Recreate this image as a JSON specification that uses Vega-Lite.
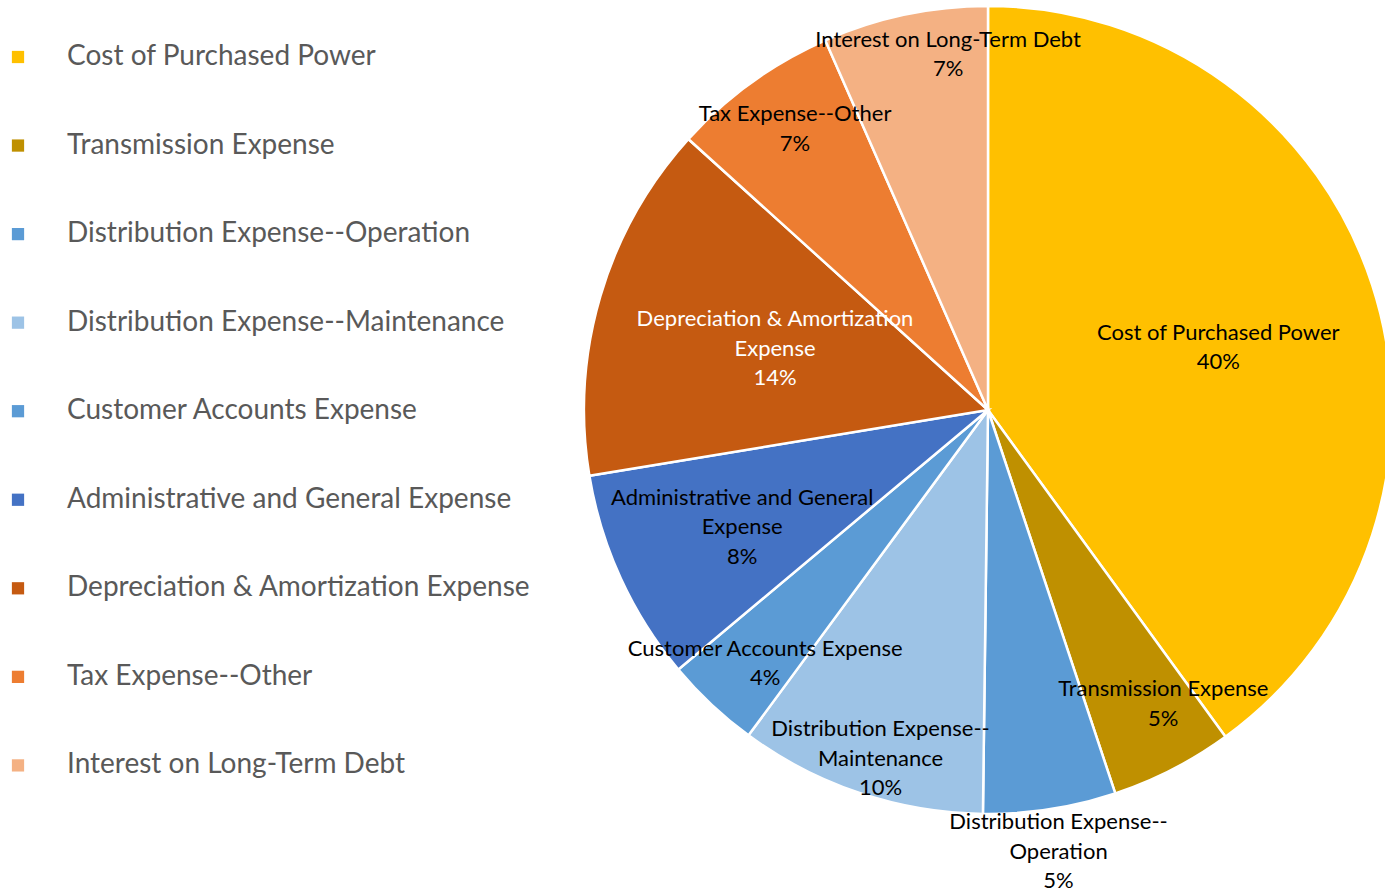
{
  "$schema": "https://vega.github.io/schema/vega-lite/v6.json",
  "width": 806,
  "height": 812,
  "autosize": {"type": "none"},
  "padding": {"left": 585, "top": 4, "right": 0, "bottom": 78},
  "background": "white",
  "config": {"view": {"stroke": null}, "font": "Lato"},
  "data": {
    "values": [
      {"order": 1, "category": "Cost of Purchased Power", "value": 40.0, "label": "Cost of Purchased Power\n40%"},
      {"order": 2, "category": "Transmission Expense", "value": 4.9, "label": "Transmission Expense\n5%"},
      {"order": 3, "category": "Distribution Expense--Operation", "value": 5.3, "label": "Distribution Expense--\nOperation\n5%"},
      {"order": 4, "category": "Distribution Expense--Maintenance", "value": 9.9, "label": "Distribution Expense--\nMaintenance\n10%"},
      {"order": 5, "category": "Customer Accounts Expense", "value": 3.8, "label": "Customer Accounts Expense\n4%"},
      {"order": 6, "category": "Administrative and General Expense", "value": 8.5, "label": "Administrative and General\nExpense\n8%"},
      {"order": 7, "category": "Depreciation & Amortization Expense", "value": 14.3, "label": "Depreciation & Amortization\nExpense\n14%"},
      {"order": 8, "category": "Tax Expense--Other", "value": 6.7, "label": "Tax Expense--Other\n7%"},
      {"order": 9, "category": "Interest on Long-Term Debt", "value": 6.6, "label": "Interest on Long-Term Debt\n7%"}
    ]
  },
  "transform": [
    {"stack": "value", "groupby": [], "sort": [{"field": "order", "order": "ascending"}], "as": ["v0", "v1"]},
    {"calculate": "(datum.v0 + datum.v1) / 2", "as": "mid"}
  ],
  "layer": [
    {
      "mark": {"type": "arc", "outerRadius": 404, "stroke": "white", "strokeWidth": 2.5},
      "encoding": {
        "theta": {"field": "v0", "type": "quantitative", "stack": null, "scale": {"domain": [0, 100]}},
        "theta2": {"field": "v1"},
        "color": {
          "field": "category",
          "type": "nominal",
          "sort": null,
          "scale": {
            "domain": ["Cost of Purchased Power", "Transmission Expense", "Distribution Expense--Operation", "Distribution Expense--Maintenance", "Customer Accounts Expense", "Administrative and General Expense", "Depreciation & Amortization Expense", "Tax Expense--Other", "Interest on Long-Term Debt"],
            "range": ["#FFC000", "#BF9000", "#5B9BD5", "#9DC3E6", "#5B9BD5", "#4472C4", "#C55A11", "#ED7D31", "#F4B183"]
          },
          "legend": {
            "orient": "none",
            "legendX": -581,
            "legendY": 39,
            "title": null,
            "padding": 0,
            "symbolType": "square",
            "symbolSize": 150,
            "symbolStrokeWidth": 0,
            "labelFontSize": 28,
            "labelColor": "#595959",
            "labelFont": "Lato",
            "labelOffset": 35,
            "rowPadding": 60.55,
            "labelLimit": 600
          }
        }
      }
    },
    {
      "transform": [{"filter": "datum.category === 'Cost of Purchased Power'"}],
      "mark": {"type": "text", "radius": 240, "dx": 2, "dy": -3, "lineBreak": "\n", "fontSize": 22, "lineHeight": 29.5, "align": "center", "baseline": "middle", "font": "Lato", "color": "black"},
      "encoding": {
        "theta": {"field": "mid", "type": "quantitative", "stack": null, "scale": {"domain": [0, 100]}},
        "text": {"field": "label", "type": "nominal"}
      }
    },
    {
      "transform": [{"filter": "datum.category === 'Transmission Expense'"}],
      "mark": {"type": "text", "radius": 340, "dx": 20, "dy": -23, "lineBreak": "\n", "fontSize": 22, "lineHeight": 29.5, "align": "center", "baseline": "middle", "font": "Lato", "color": "black"},
      "encoding": {
        "theta": {"field": "mid", "type": "quantitative", "stack": null, "scale": {"domain": [0, 100]}},
        "text": {"field": "label", "type": "nominal"}
      }
    },
    {
      "transform": [{"filter": "datum.category === 'Customer Accounts Expense'"}],
      "mark": {"type": "text", "radius": 340, "dx": 10, "dy": -9, "lineBreak": "\n", "fontSize": 22, "lineHeight": 29.5, "align": "center", "baseline": "middle", "font": "Lato", "color": "black"},
      "encoding": {
        "theta": {"field": "mid", "type": "quantitative", "stack": null, "scale": {"domain": [0, 100]}},
        "text": {"field": "label", "type": "nominal"}
      }
    },
    {
      "transform": [{"filter": "datum.category === 'Tax Expense--Other'"}],
      "mark": {"type": "text", "radius": 340, "dx": 6, "dy": -20, "lineBreak": "\n", "fontSize": 22, "lineHeight": 29.5, "align": "center", "baseline": "middle", "font": "Lato", "color": "black"},
      "encoding": {
        "theta": {"field": "mid", "type": "quantitative", "stack": null, "scale": {"domain": [0, 100]}},
        "text": {"field": "label", "type": "nominal"}
      }
    },
    {
      "transform": [{"filter": "datum.category === 'Distribution Expense--Operation'"}],
      "mark": {"type": "text", "radius": 447, "dx": 2, "dy": -29.5, "lineBreak": "\n", "fontSize": 22, "lineHeight": 29.5, "align": "center", "baseline": "middle", "font": "Lato", "color": "black"},
      "encoding": {
        "theta": {"field": "mid", "type": "quantitative", "stack": null, "scale": {"domain": [0, 100]}},
        "text": {"field": "label", "type": "nominal"}
      }
    },
    {
      "transform": [{"filter": "datum.category === 'Distribution Expense--Maintenance'"}],
      "mark": {"type": "text", "radius": 360, "dx": 7, "dy": -22, "lineBreak": "\n", "fontSize": 22, "lineHeight": 29.5, "align": "center", "baseline": "middle", "font": "Lato", "color": "black"},
      "encoding": {
        "theta": {"field": "mid", "type": "quantitative", "stack": null, "scale": {"domain": [0, 100]}},
        "text": {"field": "label", "type": "nominal"}
      }
    },
    {
      "transform": [{"filter": "datum.category === 'Administrative and General Expense'"}],
      "mark": {"type": "text", "radius": 265, "dx": -5, "dy": -23, "lineBreak": "\n", "fontSize": 22, "lineHeight": 29.5, "align": "center", "baseline": "middle", "font": "Lato", "color": "black"},
      "encoding": {
        "theta": {"field": "mid", "type": "quantitative", "stack": null, "scale": {"domain": [0, 100]}},
        "text": {"field": "label", "type": "nominal"}
      }
    },
    {
      "transform": [{"filter": "datum.category === 'Depreciation & Amortization Expense'"}],
      "mark": {"type": "text", "radius": 222, "dy": -28, "lineBreak": "\n", "fontSize": 22, "lineHeight": 29.5, "align": "center", "baseline": "middle", "font": "Lato", "color": "white"},
      "encoding": {
        "theta": {"field": "mid", "type": "quantitative", "stack": null, "scale": {"domain": [0, 100]}},
        "text": {"field": "label", "type": "nominal"}
      }
    },
    {
      "transform": [{"filter": "datum.category === 'Interest on Long-Term Debt'"}],
      "mark": {"type": "text", "radius": 359, "dx": 34, "dy": -19, "lineBreak": "\n", "fontSize": 22, "lineHeight": 29.5, "align": "center", "baseline": "middle", "font": "Lato", "color": "black"},
      "encoding": {
        "theta": {"field": "mid", "type": "quantitative", "stack": null, "scale": {"domain": [0, 100]}},
        "text": {"field": "label", "type": "nominal"}
      }
    }
  ]
}
